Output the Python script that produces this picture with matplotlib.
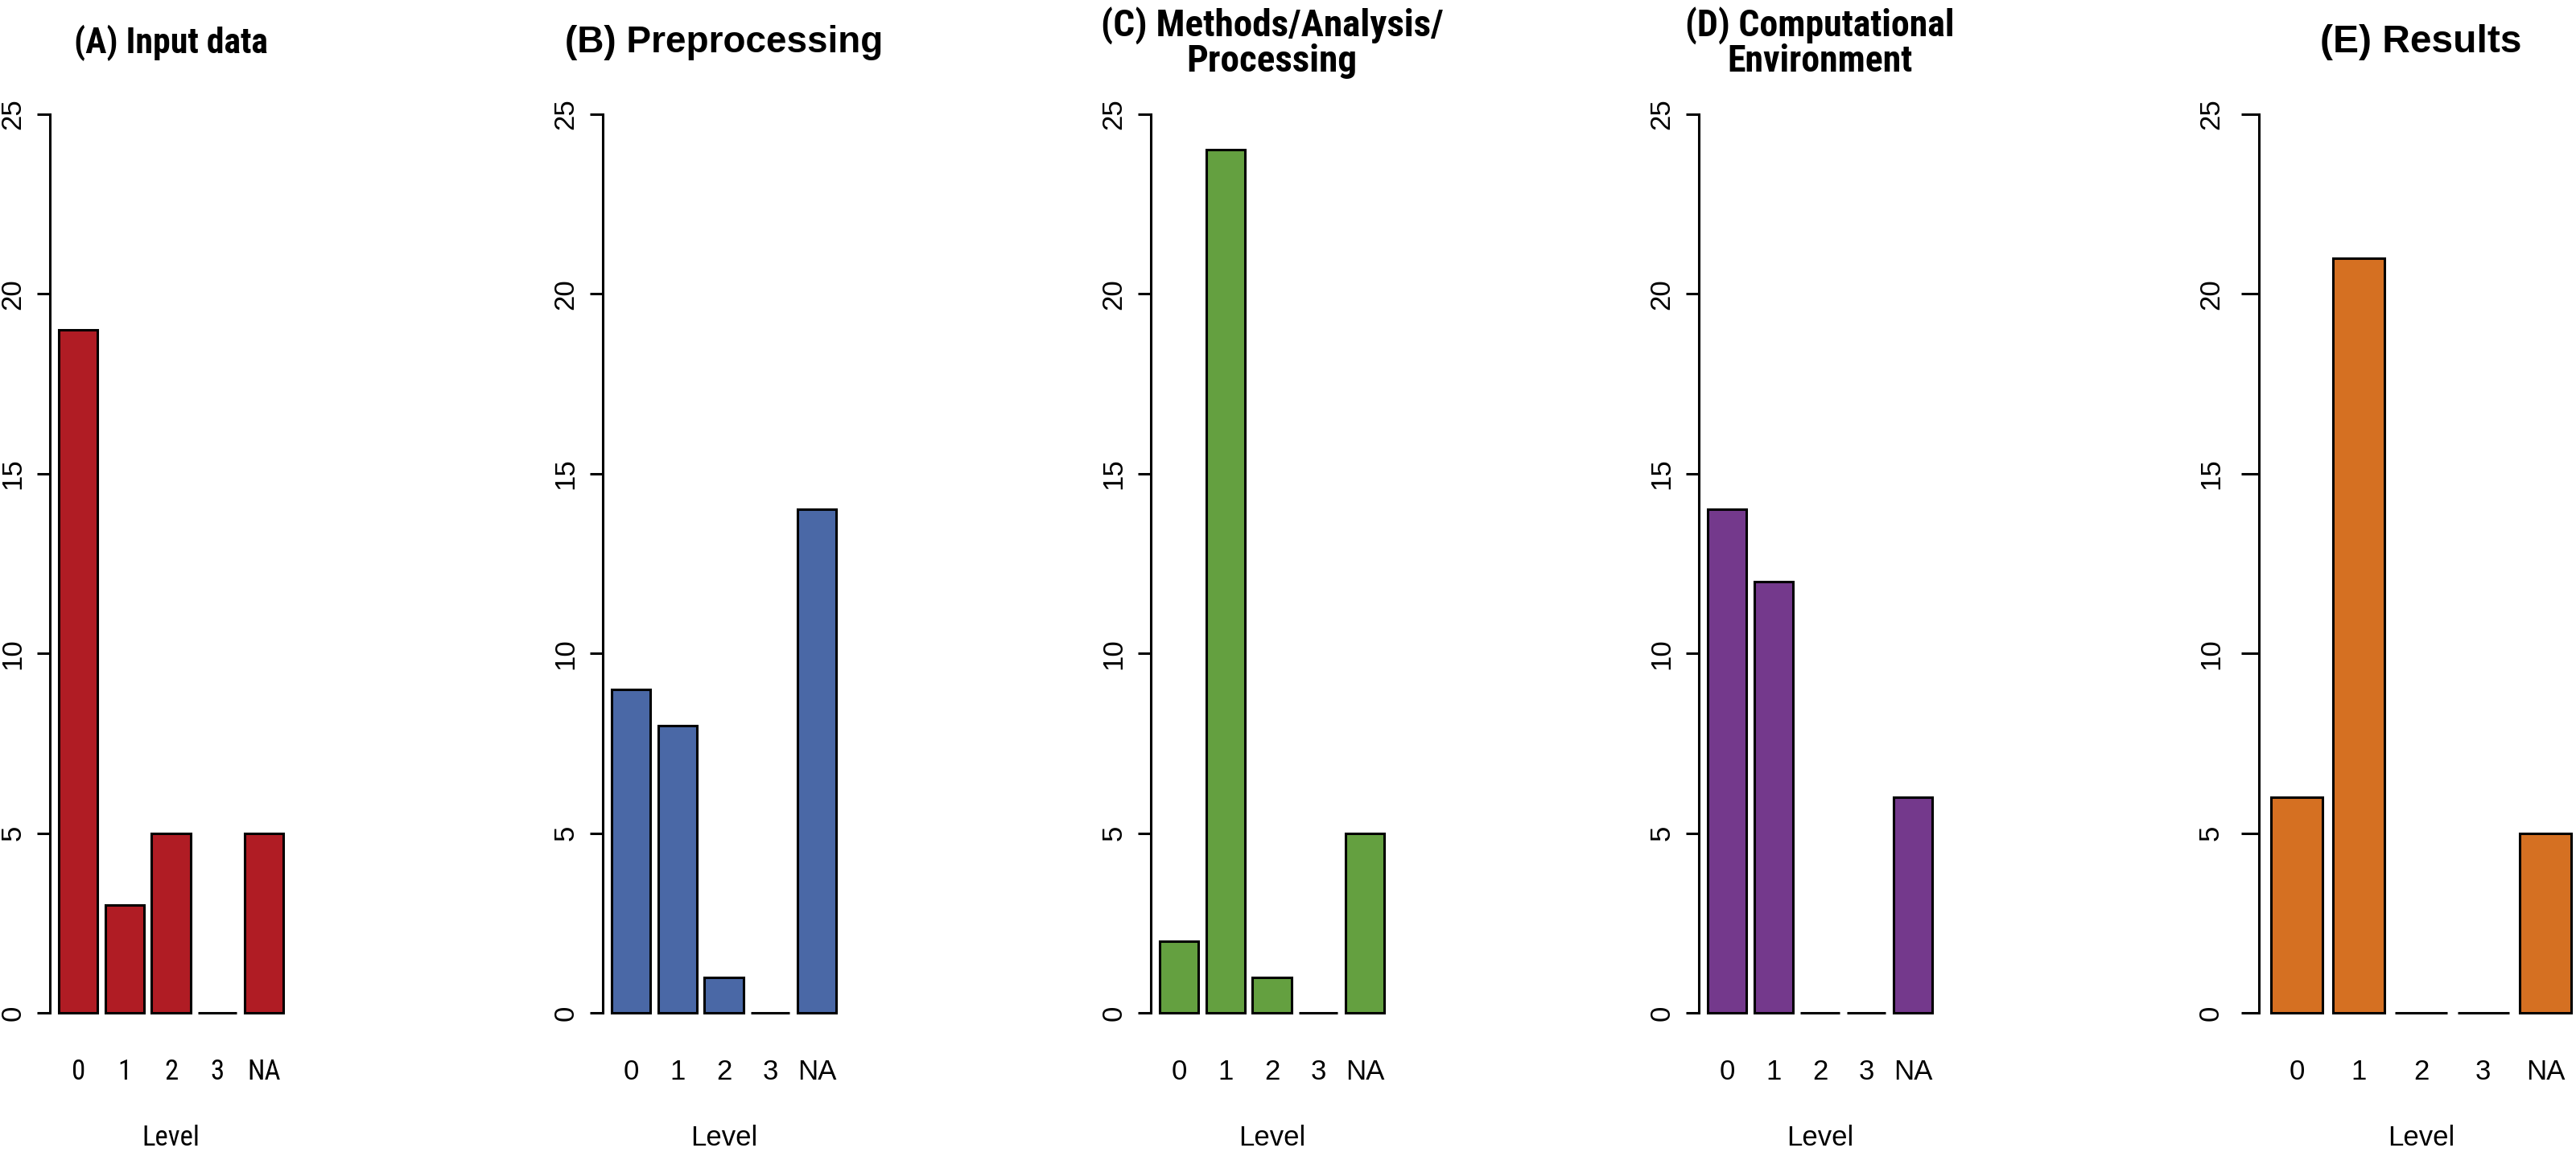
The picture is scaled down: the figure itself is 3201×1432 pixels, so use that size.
import matplotlib
matplotlib.use("Agg")
import matplotlib.pyplot as plt
from matplotlib import font_manager as fm
from matplotlib.font_manager import FontProperties
import numpy as np

# ---------------- data ----------------
levels = ["0", "1", "2", "3", "NA"]
titles = ["(A) Input data", "(B) Preprocessing", "(C) Methods/Analysis/\nProcessing",
          "(D) Computational\nEnvironment", "(E) Results"]
input_data = [19, 3, 5, 0, 5]
preprocessing = [9, 8, 1, 0, 14]
methods = [2, 24, 1, 0, 5]
environment = [14, 12, 0, 0, 6]
results = [6, 21, 0, 0, 5]
series = [input_data, preprocessing, methods, environment, results]
colors = ["#B01C24", "#4A68A6", "#64A040", "#74398C", "#D57022"]
yticks = [0, 5, 10, 15, 20, 25]
xlabel = "Level"

# ---------------- fonts ----------------
avail = {f.name for f in fm.fontManager.ttflist}
base_font = "Liberation Sans" if "Liberation Sans" in avail else "DejaVu Sans"
plt.rcParams["font.family"] = [base_font, "DejaVu Sans"]


def find_narrow(bold):
    prefs = ["Liberation Sans Narrow", "Roboto Condensed", "Open Sans Condensed",
             "Noto Sans Condensed", "DejaVu Sans Condensed", "Arial Narrow"]
    cands = []
    for f in fm.fontManager.ttflist:
        nm = f.name
        st = f.stretch
        is_narrow = ("Narrow" in nm or "Condensed" in nm or
                     st in ("condensed", "semi-condensed", "extra-condensed", "ultra-condensed") or
                     (isinstance(st, (int, float)) and st < 500))
        if not is_narrow:
            continue
        w = f.weight if isinstance(f.weight, (int, float)) else (700 if "bold" in str(f.weight) else 400)
        if bold and w < 600:
            continue
        if not bold and w >= 600:
            continue
        if f.style != "normal":
            continue
        rank = len(prefs)
        for k, p in enumerate(prefs):
            if nm.startswith(p.split()[0]) and ("Narrow" in nm or "Condensed" in nm or "Condensed" in p):
                rank = k
                break
        cands.append((rank, nm, f.fname))
    if not cands:
        return None
    cands.sort()
    return cands[0][2]


narrow_bold = find_narrow(True)
narrow_reg = find_narrow(False)


def fp(size, bold=False, narrow=False):
    if narrow:
        path = narrow_bold if bold else narrow_reg
        if path is not None:
            return FontProperties(fname=path, size=size)
        size = size * 0.88
    return FontProperties(family=[base_font, "DejaVu Sans"], size=size,
                          weight="bold" if bold else "normal")


W, H = 3201, 1432
fig = plt.figure(figsize=(W / 100, H / 100), dpi=100)

# panel layout in pixels
lefts = [62, 749, 1430, 2111, 2807]
widths = [301, 301, 301, 301, 403]
bottom_px, height_px = 128, 1207
title_narrow = [True, False, True, True, False]
title_size = [31.5, 33, 34, 33, 34.5]
label_narrow = [True, False, False, False, False]
tick_len = [11.5, 11.5, 11.5, 11.5, 16]
tick_pad = [10, 10, 10, 10, 15]

bar_w, space = 1.0, 0.2
n = len(levels)
left_edges = space + np.arange(n) * (bar_w + space)
centers = left_edges + bar_w / 2
x_lo, x_hi = left_edges[0], left_edges[-1] + bar_w
xpad = 0.04 * (x_hi - x_lo)
ymax = 25
ypad = 0.04 * ymax

lw = 2.2
label_fs = 25

for i, (vals, col, title) in enumerate(zip(series, colors, titles)):
    ax = fig.add_axes([lefts[i] / W, bottom_px / H, widths[i] / W, height_px / H])
    ax.bar(centers, vals, width=bar_w, color=col, edgecolor="black", linewidth=lw)
    ax.set_xlim(x_lo - xpad, x_hi + xpad)
    ax.set_ylim(-ypad, ymax + ypad)
    for s in ["top", "right", "bottom"]:
        ax.spines[s].set_visible(False)
    ax.spines["left"].set_bounds(0, ymax)
    ax.spines["left"].set_linewidth(lw)
    ax.set_yticks(yticks)
    ax.set_yticklabels([str(t) for t in yticks], rotation=90, va="center",
                       fontproperties=fp(label_fs))
    ax.tick_params(axis="y", length=tick_len[i], width=lw, pad=tick_pad[i])
    ax.set_xticks(centers)
    ax.set_xticklabels(levels, fontproperties=fp(label_fs, narrow=label_narrow[i]))
    ax.tick_params(axis="x", length=0, pad=9)
    ax.patch.set_visible(False)
    # x label
    ax.text(0.5, -(1415 - (H - bottom_px)) / height_px, xlabel, transform=ax.transAxes,
            ha="center", va="center", fontproperties=fp(label_fs, narrow=label_narrow[i]))
    # title
    ax.text(0.5, ((H - bottom_px) - 53) / height_px, title, transform=ax.transAxes,
            ha="center", va="center", linespacing=0.97, multialignment="center",
            fontproperties=fp(title_size[i], bold=True, narrow=title_narrow[i]))

fig.savefig("out.png", dpi=100)
